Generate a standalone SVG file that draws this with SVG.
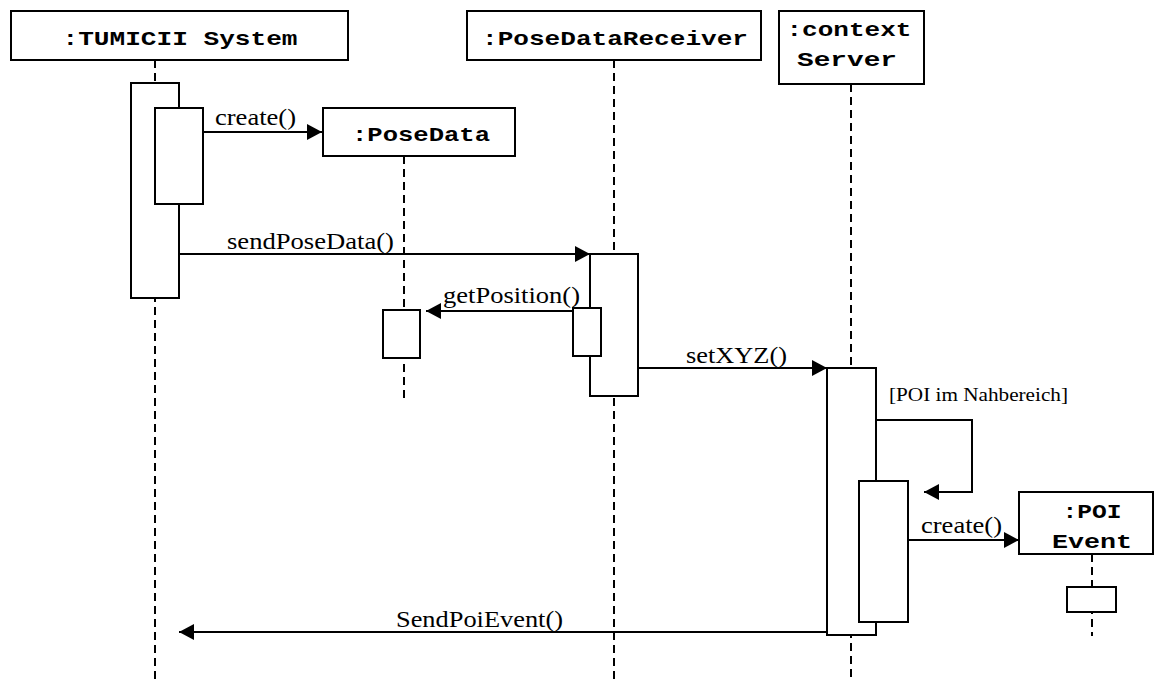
<svg xmlns="http://www.w3.org/2000/svg" width="1155" height="680" viewBox="0 0 1155 680">
  <style>
    .box { fill: #ffffff; stroke: #000000; stroke-width: 2; }
    .act { fill: #ffffff; stroke: #000000; stroke-width: 2; }
    .life { fill: none; stroke: #000000; stroke-width: 2; stroke-dasharray: 8 5; }
    .msg { fill: none; stroke: #000000; stroke-width: 2; }
    .obj { font-family: "Courier New", "Liberation Mono", monospace; font-weight: bold; font-size: 21px; fill: #000000; }
    .lbl { font-family: "Times New Roman", "Liberation Serif", serif; font-size: 23px; fill: #000000; }
    .grd { font-family: "Times New Roman", "Liberation Serif", serif; font-size: 18px; fill: #000000; }
  </style>
  <defs>
    <marker id="arrow" viewBox="0 0 15 16" refX="15" refY="8" markerWidth="15" markerHeight="16" markerUnits="userSpaceOnUse" orient="auto">
      <path d="M0,0 L15,8 L0,16 Z" fill="#000000"/>
    </marker>
  </defs>

  <rect width="1155" height="680" fill="#ffffff"/>

  <!-- lifelines -->
  <g id="lifelines">
    <line class="life" x1="155" y1="60" x2="155" y2="680"/>
    <line class="life" x1="404" y1="156" x2="404" y2="398"/>
    <line class="life" x1="614" y1="60" x2="614" y2="680"/>
    <line class="life" x1="851" y1="84" x2="851" y2="680"/>
    <line class="life" x1="1092" y1="554" x2="1092" y2="636"/>
  </g>

  <!-- object: TUMICII System -->
  <g id="tumicii">
    <rect class="box" x="11" y="11" width="337" height="49"/>
    <text class="obj" x="180" y="45" text-anchor="middle" textLength="235" lengthAdjust="spacingAndGlyphs">:TUMICII System</text>
    <rect class="act" x="131" y="83" width="48" height="215"/>
    <rect class="act" x="155" y="108" width="48" height="96"/>
  </g>

  <!-- object: PoseData -->
  <g id="posedata">
    <rect class="box" x="323" y="108" width="192" height="48"/>
    <text class="obj" x="421" y="141" text-anchor="middle" textLength="138" lengthAdjust="spacingAndGlyphs">:PoseData</text>
    <rect class="act" x="383" y="310" width="37" height="48"/>
  </g>

  <!-- object: PoseDataReceiver -->
  <g id="receiver">
    <rect class="box" x="467" y="11" width="294" height="49"/>
    <text class="obj" x="615" y="45" text-anchor="middle" textLength="266" lengthAdjust="spacingAndGlyphs">:PoseDataReceiver</text>
    <rect class="act" x="590" y="254" width="48" height="142"/>
    <rect class="act" x="573" y="308" width="28" height="48"/>
  </g>

  <!-- object: context Server -->
  <g id="contextserver">
    <rect class="box" x="779" y="11" width="145" height="73"/>
    <text class="obj" x="849" y="36" text-anchor="middle" textLength="125" lengthAdjust="spacingAndGlyphs">:context</text>
    <text class="obj" x="847" y="66" text-anchor="middle" textLength="100" lengthAdjust="spacingAndGlyphs">Server</text>
    <rect class="act" x="827" y="368" width="49" height="267"/>
    <rect class="act" x="859" y="481" width="49" height="141"/>
  </g>

  <!-- object: POI Event -->
  <g id="poievent">
    <rect class="box" x="1019" y="492" width="134" height="62"/>
    <text class="obj" x="1092" y="518" text-anchor="middle" textLength="59" lengthAdjust="spacingAndGlyphs">:POI</text>
    <text class="obj" x="1092" y="548" text-anchor="middle" textLength="80" lengthAdjust="spacingAndGlyphs">Event</text>
    <rect class="act" x="1067" y="587" width="49" height="25"/>
  </g>

  <!-- messages -->
  <g id="connectors">
    <line class="msg" x1="203" y1="132" x2="322" y2="132" marker-end="url(#arrow)"/>
    <line class="msg" x1="179" y1="254" x2="590" y2="254" marker-end="url(#arrow)"/>
    <line class="msg" x1="573" y1="311" x2="426" y2="311" marker-end="url(#arrow)"/>
    <line class="msg" x1="638" y1="368" x2="827" y2="368" marker-end="url(#arrow)"/>
    <polyline class="msg" points="876,420 972,420 972,492 924,492" marker-end="url(#arrow)"/>
    <line class="msg" x1="908" y1="540" x2="1019" y2="540" marker-end="url(#arrow)"/>
    <line class="msg" x1="827" y1="632" x2="179" y2="632" marker-end="url(#arrow)"/>
  </g>

  <!-- message labels -->
  <g id="labels">
    <text class="lbl" x="215" y="125" textLength="81" lengthAdjust="spacingAndGlyphs">create()</text>
    <text class="lbl" x="227" y="249" textLength="167" lengthAdjust="spacingAndGlyphs">sendPoseData()</text>
    <text class="lbl" x="443" y="303" textLength="137" lengthAdjust="spacingAndGlyphs">getPosition()</text>
    <text class="lbl" x="686" y="363" textLength="101" lengthAdjust="spacingAndGlyphs">setXYZ()</text>
    <text class="grd" x="889" y="401" textLength="179" lengthAdjust="spacingAndGlyphs">[POI im Nahbereich]</text>
    <text class="lbl" x="921" y="533" textLength="81" lengthAdjust="spacingAndGlyphs">create()</text>
    <text class="lbl" x="396" y="627" textLength="167" lengthAdjust="spacingAndGlyphs">SendPoiEvent()</text>
  </g>
</svg>
